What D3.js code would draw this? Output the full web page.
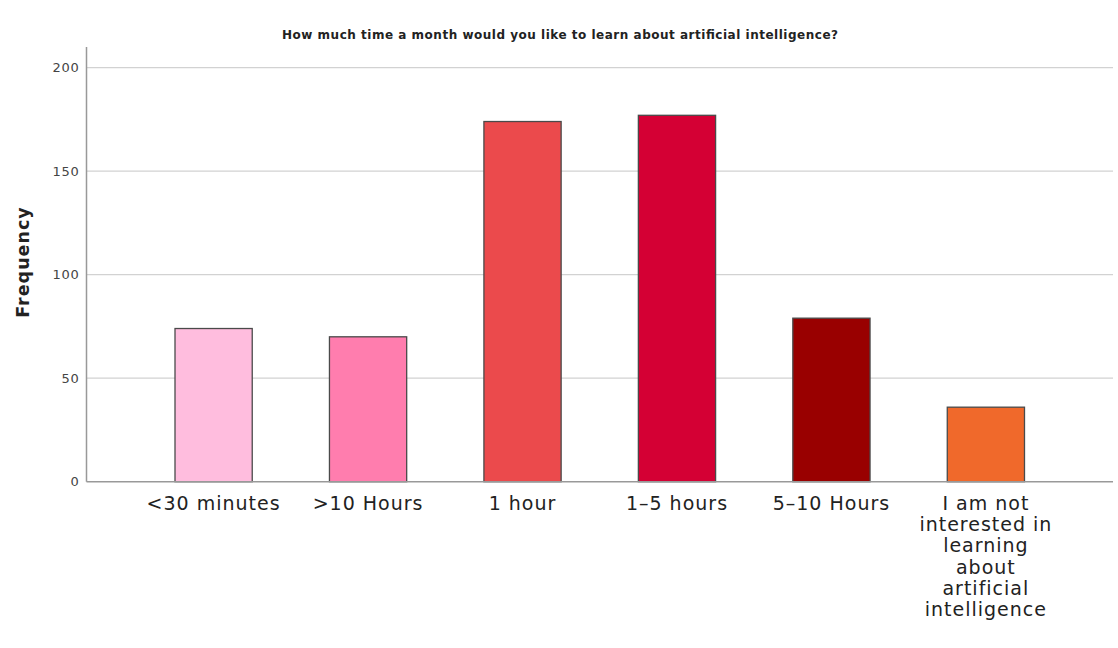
<!DOCTYPE html>
<html>
<head>
<meta charset="utf-8">
<script src="https://cdn.jsdelivr.net/npm/d3@7"></script>
<style>
  html, body { margin: 0; padding: 0; background: #fff; }
  svg { display: block; }
</style>
</head>
<body>
<svg id="chart" width="1118" height="648"></svg>
<script>
const categories = ["<30 minutes", ">10 Hours", "1 hour", "1-5 hours", "5-10 Hours",
  "I am not interested in learning about artificial intelligence"];
const labelLines = [["<30 minutes"], [">10 Hours"], ["1 hour"], ["1\u20135 hours"], ["5\u201310 Hours"],
  ["I am not", "interested in", "learning", "about", "artificial", "intelligence"]];
const frequencies = [74, 70, 174, 177, 79, 36];
const barColors = ["#FFBDDE", "#FF7DAE", "#EB4A4C", "#D40034", "#990000", "#F0692B"];
const yTicks = [0, 50, 100, 150, 200];
const title = "How much time a month would you like to learn about artificial intelligence?";
const yTitle = "Frequency";

const svg = d3.select("#chart");
const plotLeft = 86.5, plotRight = 1113, plotTop = 47, plotBottom = 481.7;

const x = d3.scaleBand().domain(categories).range([plotLeft, plotRight])
  .paddingInner(0.5).paddingOuter(0.573);
const y = d3.scaleLinear().domain([0, 210]).range([plotBottom, plotTop]);

// gridlines
svg.append("g").selectAll("line").data(yTicks.filter(d => d > 0)).join("line")
  .attr("x1", plotLeft).attr("x2", plotRight)
  .attr("y1", d => y(d)).attr("y2", d => y(d))
  .attr("stroke", "#d2d2d2").attr("stroke-width", 1.3);

// bars
svg.append("g").selectAll("rect").data(frequencies).join("rect")
  .attr("x", (d, i) => x(categories[i]))
  .attr("y", d => y(d))
  .attr("width", x.bandwidth())
  .attr("height", d => y(0) - y(d))
  .attr("fill", (d, i) => barColors[i])
  .attr("stroke", "#4a4a4a")
  .attr("stroke-width", 1.3);

// y axis
const yAxis = d3.axisLeft(y).tickValues(yTicks).tickSize(0).tickPadding(7);
const gy = svg.append("g").attr("transform", `translate(${plotLeft},0)`).call(yAxis);
gy.select(".domain").remove();
gy.selectAll("text").attr("font-family", "DejaVu Sans, sans-serif").attr("font-size", 13)
  .attr("letter-spacing", 0.7).attr("fill", "#444");
svg.append("line").attr("x1", plotLeft).attr("x2", plotLeft).attr("y1", plotTop).attr("y2", plotBottom)
  .attr("stroke", "#999").attr("stroke-width", 1.5);
// x axis line
svg.append("line").attr("x1", plotLeft).attr("x2", plotRight).attr("y1", plotBottom).attr("y2", plotBottom)
  .attr("stroke", "#999").attr("stroke-width", 1.5);

// x labels
const xl = svg.append("g").selectAll("text").data(categories).join("text")
  .attr("x", d => x(d) + x.bandwidth() / 2)
  .attr("y", 510)
  .attr("text-anchor", "middle")
  .attr("font-family", "DejaVu Sans, sans-serif")
  .attr("font-size", 19)
  .attr("letter-spacing", 1)
  .attr("fill", "#222");
xl.each(function(d, i) {
  const t = d3.select(this);
  labelLines[i].forEach((line, j) => {
    t.append("tspan").attr("x", x(d) + x.bandwidth() / 2).attr("dy", j === 0 ? 0 : 21.2).text(line);
  });
});

// title
svg.append("text").attr("x", 560).attr("y", 39).attr("text-anchor", "middle")
  .attr("font-family", "DejaVu Sans, sans-serif").attr("font-weight", "bold")
  .attr("font-size", 12).attr("textLength", 556).attr("lengthAdjust", "spacing")
  .attr("fill", "#222").text(title);

// y title
svg.append("text").attr("transform", "translate(28.5,262) rotate(-90)")
  .attr("text-anchor", "middle")
  .attr("font-family", "DejaVu Sans, sans-serif").attr("font-weight", "bold")
  .attr("font-size", 17.5).attr("letter-spacing", 1).attr("fill", "#222").text(yTitle);
</script>
</body>
</html>
